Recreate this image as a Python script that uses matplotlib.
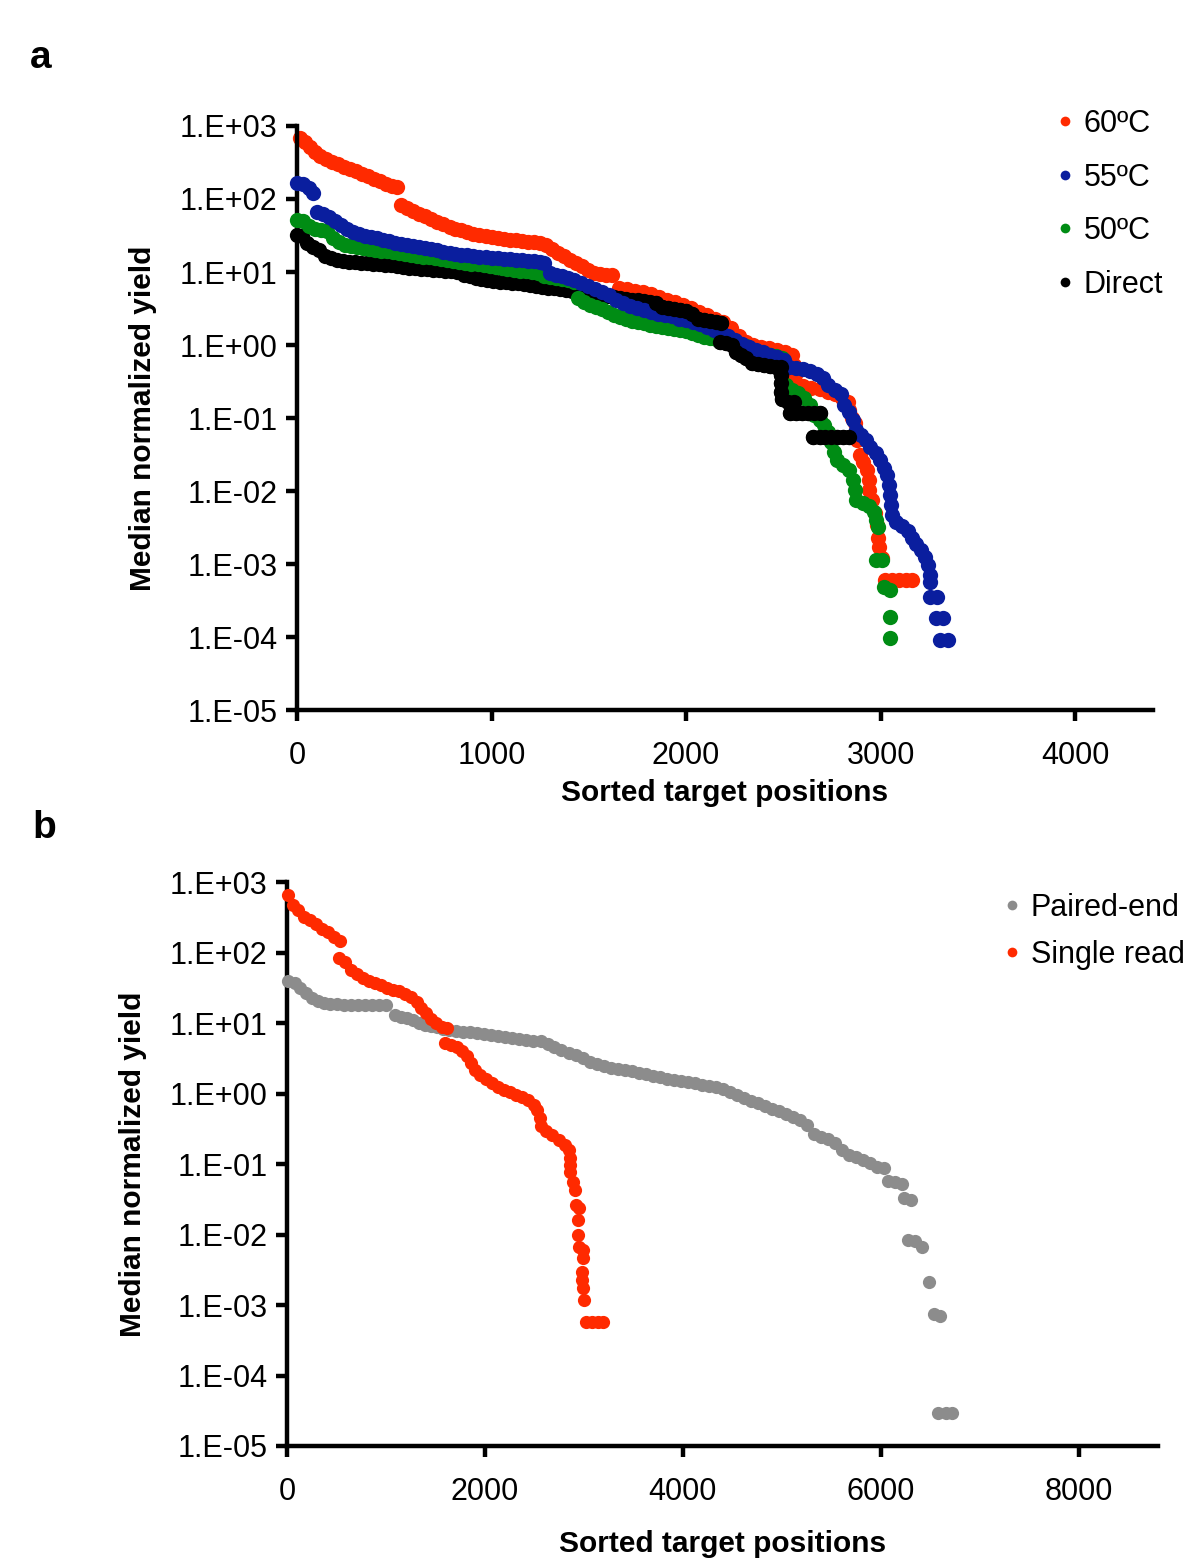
import numpy as np
import matplotlib
matplotlib.use("Agg")
import matplotlib.pyplot as plt

# =========================================================================================
# Data (x = sorted target position, y = median normalized yield)
# =========================================================================================
# ---- panel a ----
x_60 = [15, 41, 67, 93, 119, 149, 180, 211, 242, 273, 304, 335, 366, 397, 428, 459, 490, 515,
        536, 567, 598, 629, 660, 691, 722, 753, 784, 814, 845, 876, 907, 938, 969, 1000, 1031, 1062,
        1093, 1124, 1155, 1186, 1216, 1247, 1278, 1309, 1340, 1371, 1402, 1433, 1464, 1495, 1526,
        1557, 1588, 1619,
        1655, 1696, 1737, 1778, 1820, 1861, 1902, 1943, 1985, 2026, 2067, 2108, 2149, 2191, 2232,
        2273, 2309, 2345, 2387, 2428, 2469, 2510, 2546, 2557, 2562, 2567, 2603, 2644, 2686, 2727,
        2768, 2804, 2830, 2840, 2851, 2866, 2881, 2892, 2912, 2928, 2938, 2938, 2954, 2969, 2979,
        2985, 2990, 3005, 3021, 3057, 3093, 3129, 3160]
y_60 = [685, 604, 515, 440, 388, 353, 321, 301, 274, 258, 242, 220, 206, 188, 177, 160, 151, 146,
        82.7, 75.4, 68.5, 62.4, 58.5, 53.2, 48.4, 45.5, 41.3, 38.8, 37.6, 35.3, 33.2, 32.1, 31.1,
        30.1, 29.2, 28.3, 27.4, 27.4, 26.6, 25.8, 25.8, 25.0, 23.4, 20.7, 18.2, 16.6, 14.6, 13.3,
        12.1, 10.6, 9.7, 9.4, 9.1, 9.1,
        6.0, 5.85, 5.5, 5.3, 5.0, 4.5, 4.1, 3.9, 3.5, 3.2, 2.8, 2.6, 2.3, 2.07, 1.71, 1.33, 1.10,
        1.0, 0.94, 0.91, 0.855, 0.80, 0.73, 0.53, 0.39, 0.28, 0.274, 0.26, 0.25, 0.227, 0.213, 0.19,
        0.166, 0.13, 0.10, 0.085, 0.050, 0.031, 0.025, 0.0194, 0.0142, 0.0103, 0.0075, 0.0050,
        0.0034, 0.0023, 0.0017, 0.00121, 0.0006, 0.0006, 0.0006, 0.0006, 0.0006]

x_55 = [0, 31, 62, 82, 103, 134, 165, 196, 227, 258, 289, 320, 351, 381, 412, 443, 474, 505, 536,
        567, 598, 629, 660, 691, 722, 753, 784, 814, 845, 876, 907, 938, 969, 1000, 1031, 1062,
        1093, 1124, 1155, 1186, 1216, 1247, 1268,
        1299, 1330, 1361, 1392, 1423, 1459, 1495, 1531, 1567, 1603, 1639, 1675, 1711, 1747, 1784,
        1820, 1856, 1892, 1928, 1964, 2000, 2036, 2072, 2108, 2144, 2180, 2216, 2253, 2289, 2325,
        2361, 2397, 2433, 2469, 2505, 2531, 2567, 2603, 2639, 2675, 2706, 2732, 2763, 2794, 2814,
        2835, 2856, 2876, 2897, 2923, 2948, 2974, 2995, 3015, 3031, 3041, 3046, 3052, 3057, 3077,
        3108, 3139, 3160, 3180, 3206, 3227, 3242, 3253, 3253, 3253, 3289, 3284, 3320, 3304, 3345]
y_55 = [166, 160, 142, 121, 66.4, 62.4, 56.6, 50, 44.1, 38.8, 35.3, 33.2, 31.1, 30.1, 29.2, 27.4,
        26.6, 25.0, 24.2, 23.4, 22.7, 22.0, 21.3, 20.7, 20.0, 18.8, 18.2, 17.7, 17.1, 17.1, 16.6,
        16.0, 16.0, 15.6, 15.6, 15.1, 15.1, 14.6, 14.6, 14.2, 14.2, 13.7, 13.3,
        9.7, 9.1, 8.8, 8.3, 7.8, 7.1, 6.4, 5.85, 5.3, 4.8, 4.1, 3.8, 3.4, 3.2, 3.0, 2.8, 2.7, 2.6,
        2.5, 2.3, 2.2, 2.07, 1.94, 1.77, 1.60, 1.51, 1.33, 1.17, 1.03, 0.94, 0.855, 0.80, 0.73,
        0.685, 0.62, 0.50, 0.48, 0.47, 0.44, 0.40, 0.353, 0.28, 0.24, 0.21, 0.15, 0.121, 0.094,
        0.0685, 0.058, 0.050, 0.040, 0.033, 0.0266, 0.0207, 0.0166, 0.0121, 0.0088, 0.0064, 0.0047,
        0.0038, 0.0033, 0.0028, 0.0023, 0.0019, 0.00156, 0.00125, 0.00097, 0.00071, 0.00057,
        0.00035, 0.00035, 0.00018, 0.00018, 0.000091, 0.000091]

x_50 = [0, 31, 62, 93, 124, 155, 186, 216, 247, 278, 309, 340, 371, 402, 433, 464, 495, 526, 557,
        588, 619, 649, 680, 711, 742, 773, 804, 835, 866, 897, 928, 959, 990, 1021, 1052, 1082,
        1113, 1144, 1175, 1206, 1237, 1268, 1299, 1330, 1361, 1392, 1423, 1443, 1474, 1505, 1536,
        1567, 1598, 1629, 1660, 1691, 1722, 1753, 1784, 1814, 1845, 1876, 1907, 1938, 1969, 2000,
        2031, 2062, 2093, 2124, 2155, 2186, 2216, 2247, 2278, 2309, 2340, 2371, 2402, 2433, 2464,
        2495, 2515, 2546, 2577, 2608, 2639, 2660, 2686, 2711, 2732, 2747, 2758, 2778, 2809, 2840,
        2856, 2866, 2876, 2907, 2938, 2964, 2974, 2985, 2974, 3005, 3015, 3046, 3046, 3046]
y_50 = [51.6, 50, 42.6, 38.8, 37.6, 36.5, 29.2, 25.8, 23.4, 22.7, 22.0, 21.3, 20.7, 20.0, 19.4,
        19.4, 18.8, 18.2, 17.7, 17.1, 16.6, 16.0, 16.0, 15.6, 15.1, 14.6, 14.2, 13.7, 13.3, 12.9,
        12.9, 12.5, 12.1, 11.7, 11.3, 11.0, 10.6, 10.3, 10.3, 10.0, 9.7, 8.8, 8.5, 8.3, 8.0, 7.8,
        7.3, 4.4, 3.9, 3.5, 3.3, 3.1, 2.8, 2.6, 2.42, 2.27, 2.1, 2.07, 2.0, 1.9, 1.82, 1.77, 1.71,
        1.66, 1.60, 1.56, 1.46, 1.37, 1.29, 1.25, 1.21, 1.17, 1.13, 1.10, 1.03, 0.97, 0.855, 0.80,
        0.78, 0.73, 0.71, 0.66, 0.28, 0.24, 0.22, 0.19, 0.15, 0.11, 0.094, 0.080, 0.064, 0.047,
        0.034, 0.0266, 0.0227, 0.0194, 0.0142, 0.0103, 0.0075, 0.0069, 0.0062, 0.0052, 0.0040,
        0.0032, 0.00113, 0.00113, 0.00048, 0.00044, 0.00019, 0.000097]

x_direct = [0, 26, 52, 82, 113, 144, 175, 206, 237, 268, 299, 330, 361, 392, 423, 454, 485, 515,
            546, 577, 608, 639, 670, 701, 732, 763, 794, 825, 856, 887, 918, 948, 979, 1010, 1041,
            1072, 1103, 1134, 1165, 1196, 1227, 1258, 1289, 1320, 1351, 1381, 1412, 1443, 1474,
            1505, 1536, 1567, 1598, 1629, 1660, 1691, 1722, 1753, 1784, 1814, 1845, 1876, 1907,
            1938, 1969, 2000, 2031, 2062, 2093, 2124, 2155, 2180, 2175, 2206, 2237, 2258, 2284,
            2309, 2340, 2371, 2402, 2433, 2464, 2490, 2490, 2490, 2490, 2495, 2526, 2557, 2536,
            2567, 2598, 2629, 2660, 2691, 2655, 2686, 2716, 2747, 2778, 2809, 2840]
y_direct = [32.1, 31.1, 25.0, 22.0, 20.0, 16.6, 15.6, 14.6, 14.2, 13.7, 13.7, 13.3, 13.3, 12.9,
            12.9, 12.5, 12.5, 12.1, 11.7, 11.3, 11.3, 11.0, 11.0, 10.6, 10.6, 10.3, 10.3, 10.0, 9.1,
            8.8, 8.3, 8.0, 7.8, 7.5, 7.3, 7.3, 7.1, 7.1, 6.9, 6.6, 6.4, 6.2, 6.0, 6.0, 5.85, 5.7,
            5.5, 5.5, 5.3, 5.3, 5.0, 4.8, 4.7, 4.5, 4.4, 4.27, 4.1, 4.1, 4.0, 3.9, 3.8, 3.3, 3.2,
            3.1, 3.0, 2.9, 2.7, 2.3, 2.2, 2.1, 2.07, 2.0, 1.10, 1.06, 1.0, 0.80, 0.73, 0.66, 0.57,
            0.55, 0.53, 0.515, 0.50, 0.50, 0.39, 0.30, 0.227, 0.18, 0.166, 0.166, 0.117, 0.117,
            0.117, 0.117, 0.117, 0.117, 0.055, 0.055, 0.055, 0.055, 0.055, 0.055, 0.055]

# ---- panel b ----
x_single = [10, 61, 111, 172, 233, 294, 354, 415, 476, 536,
            526, 587, 648, 709, 769, 830, 891, 951, 1012, 1073,
            1134, 1194, 1255, 1316, 1356, 1407, 1457, 1508, 1569, 1619,
            1599, 1660, 1721, 1771, 1822, 1862, 1903, 1953, 2014, 2075,
            2136, 2196, 2257, 2318, 2379, 2439, 2500, 2530, 2551, 2561,
            2621, 2682, 2743, 2804, 2844, 2854, 2864, 2864, 2885, 2905,
            2915, 2945, 2935, 2935, 2945, 2986, 2986, 2976, 2976, 2986,
            2996, 3016, 3077, 3138, 3188]
y_single = [654, 472, 401, 319, 289, 254, 215, 195, 166, 146,
            83.5, 73.3, 56.5, 49.6, 43.5, 39.4, 36.9, 34.6, 31.4, 29.4,
            28.4, 25.8, 23.4, 19.9, 16.3, 13.9, 11.4, 10.0, 8.8, 8.5,
            5.2, 4.9, 4.6, 4.0, 3.4, 2.7, 2.15, 1.83, 1.6, 1.41,
            1.24, 1.12, 1.05, 0.95, 0.89, 0.81, 0.69, 0.58, 0.45, 0.346,
            0.294, 0.258, 0.219, 0.186, 0.158, 0.122, 0.097, 0.077, 0.056, 0.043,
            0.026, 0.0238, 0.016, 0.0098, 0.0067, 0.0060, 0.0046, 0.0029, 0.0023, 0.00174,
            0.00118, 0.00057, 0.00057, 0.00057, 0.00057]

x_paired = [10, 81, 132, 192, 253, 314, 374, 435, 506, 577,
            648, 719, 789, 860, 931, 1002, 1093, 1154, 1215, 1275,
            1336, 1397, 1457, 1518, 1579, 1640, 1711, 1781, 1852, 1923,
            1994, 2065, 2136, 2206, 2277, 2348, 2419, 2490, 2561, 2632,
            2702, 2773, 2844, 2915, 2986, 3057, 3128, 3198, 3269, 3340,
            3411, 3482, 3553, 3623, 3694, 3765, 3836, 3907, 3978, 4049,
            4119, 4190, 4261, 4332, 4403, 4474, 4545, 4615, 4686, 4757,
            4828, 4899, 4970, 5040, 5111, 5182, 5253, 5324, 5395, 5466,
            5536, 5607, 5678, 5749, 5820, 5891, 5962, 6032, 6073, 6144,
            6215, 6235, 6306, 6275, 6346, 6417, 6488, 6538, 6599, 6579,
            6660, 6721]
y_paired = [39.4, 36.9, 31.4, 26.7, 22.6, 20.5, 19.2, 18.6, 18.6, 18.0,
            18.0, 18.0, 18.0, 18.0, 18.0, 18.0, 13.0, 12.2, 11.8, 11.0,
            10.0, 9.4, 9.1, 8.8, 8.2, 8.0, 7.7, 7.5, 7.5, 7.2,
            7.0, 6.8, 6.5, 6.3, 6.1, 5.9, 5.7, 5.6, 5.6, 5.0,
            4.6, 4.1, 3.75, 3.5, 3.2, 2.8, 2.6, 2.45, 2.3, 2.2,
            2.15, 2.1, 1.95, 1.9, 1.77, 1.71, 1.6, 1.55, 1.5, 1.46,
            1.41, 1.32, 1.28, 1.24, 1.16, 1.05, 0.95, 0.86, 0.78, 0.73,
            0.665, 0.60, 0.565, 0.51, 0.465, 0.42, 0.36, 0.267, 0.24, 0.226,
            0.199, 0.158, 0.134, 0.126, 0.114, 0.103, 0.091, 0.088, 0.057, 0.056,
            0.052, 0.033, 0.031, 0.0084, 0.0081, 0.0067, 0.0021, 0.00074, 0.0007, 2.9e-5,
            2.9e-5, 2.9e-5]

tick_exp = [-5, -4, -3, -2, -1, 0, 1, 2, 3]
tick_text = ["1.E-05", "1.E-04", "1.E-03", "1.E-02", "1.E-01", "1.E+00", "1.E+01", "1.E+02", "1.E+03"]

# =========================================================================================
# Figure
# =========================================================================================
plt.rcParams["font.family"] = ["Liberation Sans", "DejaVu Sans"]

fig = plt.figure(figsize=(12, 15.63), dpi=100)


def style_axis(ax, xmax, xticks):
    ax.set_yscale("log")
    ax.set_ylim(1e-5, 1e3)
    ax.set_xlim(0, xmax)
    ax.set_yticks([10.0 ** k for k in tick_exp])
    ax.set_yticklabels(tick_text)
    ax.yaxis.set_minor_locator(matplotlib.ticker.NullLocator())
    ax.set_xticks(xticks)
    ax.set_xticklabels([str(t) for t in xticks])
    for s in ["top", "right"]:
        ax.spines[s].set_visible(False)
    for s in ["left", "bottom"]:
        ax.spines[s].set_linewidth(3.2)
    ax.tick_params(axis="both", direction="out", length=8, width=3.2, labelsize=22, pad=6)
    ax.tick_params(axis="x", pad=14)
    ax.set_xlabel("Sorted target positions", fontsize=21.5, fontweight="bold", labelpad=6)
    ax.set_ylabel("Median normalized yield", fontsize=21.5, fontweight="bold", labelpad=16)


# ---------------- panel a ----------------
ax1 = fig.add_axes([0.2475, 0.5457, 0.7133, 0.3737])
ms_a = 11.0
ax1.plot(x_direct, y_direct, "o", color="black", ms=ms_a, mec="none", clip_on=False, zorder=3)
ax1.plot(x_50, y_50, "o", color="#008C14", ms=ms_a, mec="none", clip_on=False, zorder=4)
ax1.plot(x_55, y_55, "o", color="#0A1E9E", ms=ms_a, mec="none", clip_on=False, zorder=5)
ax1.plot(x_60, y_60, "o", color="#FF2A00", ms=ms_a, mec="none", clip_on=False, zorder=2)
# keep direct on top in the middle region, as in the picture
ax1.plot(x_direct[60:], y_direct[60:], "o", color="black", ms=ms_a, mec="none", clip_on=False, zorder=6)
style_axis(ax1, 4400, [0, 1000, 2000, 3000, 4000])

h_a = [plt.Line2D([], [], ls="none", marker="o", ms=7, mec="none", color=c)
       for c in ["#FF2A00", "#0A1E9E", "#008C14", "black"]]
fig.legend(h_a, ["60ºC", "55ºC", "50ºC", "Direct"], loc="upper left",
           bbox_to_anchor=(0.871, 0.938), frameon=False, fontsize=22,
           handlelength=0.5, handletextpad=0.35, labelspacing=0.77, borderaxespad=0)

# ---------------- panel b ----------------
ax2 = fig.add_axes([0.2392, 0.07486, 0.7258, 0.3608])
ms_b = 9.5
ax2.plot(x_paired, y_paired, "o", color="#8C8C8C", ms=ms_b, mec="none", clip_on=False, zorder=3)
ax2.plot(x_single, y_single, "o", color="#FF2A00", ms=ms_b, mec="none", clip_on=False, zorder=4)
style_axis(ax2, 8800, [0, 2000, 4000, 6000, 8000])
ax2.xaxis.labelpad = 17
ax2.yaxis.labelpad = 16

h_b = [plt.Line2D([], [], ls="none", marker="o", ms=7, mec="none", color=c)
       for c in ["#8C8C8C", "#FF2A00"]]
fig.legend(h_b, ["Paired-end", "Single read"], loc="upper left",
           bbox_to_anchor=(0.827, 0.4365), frameon=False, fontsize=22,
           handlelength=0.5, handletextpad=0.35, labelspacing=0.55, borderaxespad=0)

# panel letters
fig.text(0.025, 0.963, "a", fontsize=28, fontweight="bold", va="center")
fig.text(0.027, 0.470, "b", fontsize=28, fontweight="bold", va="center")

fig.savefig("out.png", dpi=100)
